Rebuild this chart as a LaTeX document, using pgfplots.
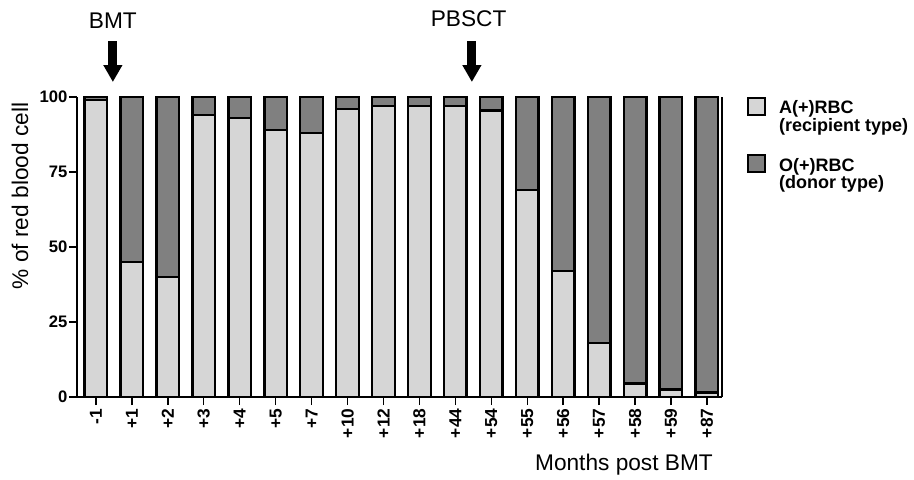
\documentclass[border=0pt]{standalone}
\usepackage{pgfplots}
\pgfplotsset{compat=1.18}
\usepackage{fontspec}
\setmainfont{Liberation Sans}
\usetikzlibrary{arrows.meta,calc}
\definecolor{donor}{RGB}{128,128,128}
\definecolor{recip}{RGB}{214,214,214}
\begin{document}
\begin{tikzpicture}
\path[use as bounding box] (-57.75pt,-61.5pt) rectangle (627.75pt,297.75pt);
\begin{axis}[
  scale only axis,
  width=483.75pt, height=225pt,
  xmin=-0.528, xmax=17.42,
  ymin=0, ymax=100,
  clip=false,
  axis x line*=bottom,
  axis y line*=left,
  axis line style={line width=1.6pt},
  ybar stacked,
  bar width=16.95pt,
  xtick={0,...,17},
  xticklabels={-1,+1,+2,+3,+4,+5,+7,+10,+12,+18,+44,+54,+55,+56,+57,+58,+59,+87},
  ytick={0,25,50,75,100},
  tick align=outside,
  major tick length=6pt,
  tick style={line width=1pt, black},
  /pgf/number format/assume math mode=true,
  ticklabel style={font=\fontsize{12.5}{14}\selectfont\bfseries},
  xticklabel style={rotate=90, anchor=east, inner sep=2.5pt, font=\fontsize{13}{14}\selectfont\bfseries},
  yticklabel style={inner sep=1pt},
]
\addplot[fill=recip, draw=black, line width=1.8pt] coordinates {
(0,99) (1,45) (2,40) (3,94) (4,93) (5,89) (6,88) (7,96) (8,97) (9,97)
(10,97) (11,95.5) (12,69) (13,42) (14,18) (15,4.5) (16,2.5) (17,1.5)};
\addplot[fill=donor, draw=black, line width=1.8pt] coordinates {
(0,1) (1,55) (2,60) (3,6) (4,7) (5,11) (6,12) (7,4) (8,3) (9,3)
(10,3) (11,4.5) (12,31) (13,58) (14,82) (15,95.5) (16,97.5) (17,98.5)};
\draw[line width=1.2pt] (rel axis cs:1,0) -- (rel axis cs:1,1);
% arrows and annotations
\draw[line width=6.75pt, -{Triangle[width=13.5pt,length=12.75pt]}] (axis cs:0.47,118.5) -- (axis cs:0.47,105);
\draw[line width=6.75pt, -{Triangle[width=13.5pt,length=12.75pt]}] (axis cs:10.46,118.5) -- (axis cs:10.46,105);
\node[font=\fontsize{17}{20}\selectfont] at (axis cs:0.47,125.5) {BMT};
\node[font=\fontsize{17}{20}\selectfont] at (axis cs:10.37,126) {PBSCT};
\node[font=\fontsize{17}{20}\selectfont, rotate=90] at (rel axis cs:-0.0884,0.67) {\% of red blood cell};
\node[font=\fontsize{17}{20}\selectfont] at (rel axis cs:0.848,-0.2267) {Months post BMT};
% legend
\draw[fill=recip, line width=1.5pt] ($(rel axis cs:1.054,0.97)+(-6.375pt,-6.375pt)$) rectangle ++(12.75pt,12.75pt);
\draw[fill=donor, line width=1.5pt] ($(rel axis cs:1.054,0.777)+(-6.375pt,-6.375pt)$) rectangle ++(12.75pt,12.75pt);
\node[anchor=west, align=left, inner sep=0pt, font=\fontsize{13.5}{13}\selectfont\bfseries] at (rel axis cs:1.088,0.93) {A(+)RBC\\(recipient type)};
\node[anchor=west, align=left, inner sep=0pt, font=\fontsize{13.5}{13}\selectfont\bfseries] at (rel axis cs:1.088,0.738) {O(+)RBC\\(donor type)};
\end{axis}
\end{tikzpicture}
\end{document}
